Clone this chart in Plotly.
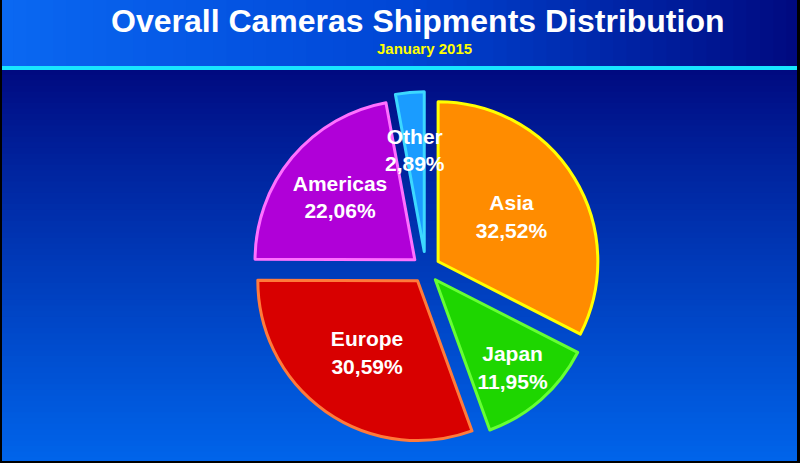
import plotly.graph_objects as go

# ---- data ----
regions = ["Asia", "Japan", "Europe", "Americas", "Other"]
shares = [32.52, 11.95, 30.59, 22.06, 2.89]
slice_colors = ["#ff8c00", "#1ed600", "#d80000", "#b000d8", "#1a9cff"]
edge_colors = ["#ffff00", "#66ff33", "#ff7a3a", "#ff70ff", "#3cd8ff"]
pulls = [0.09, 0.09, 0.09, 0.09, 0.11]

title_text = "Overall Cameras Shipments Distribution"
subtitle_text = "January 2015"

W, H = 800, 463
LABEL_FONT = dict(color="white", size=21, family="Liberation Sans, Arial", weight="bold")


def lerp(c1, c2, t):
    a = [int(c1[i:i + 2], 16) for i in (1, 3, 5)]
    b = [int(c2[i:i + 2], 16) for i in (1, 3, 5)]
    return "#%02x%02x%02x" % tuple(round(a[k] + (b[k] - a[k]) * t) for k in range(3))


shapes = []
# header: horizontal gradient
header_h = 66
n = 60
for i in range(n):
    t = i / (n - 1)
    if t < 0.5:
        col = lerp("#0a68f2", "#0046d6", t / 0.5)
    else:
        col = lerp("#0046d6", "#000a80", (t - 0.5) / 0.5)
    shapes.append(dict(type="rect", xref="paper", yref="paper", layer="below",
                       x0=i / n, x1=(i + 1) / n + 0.002,
                       y0=1 - header_h / H, y1=1,
                       fillcolor=col, line=dict(width=0)))
# body: vertical gradient
top_px = 69
m = 70
for i in range(m):
    t = i / (m - 1)
    y_top = top_px + (H - top_px) * i / m
    y_bot = top_px + (H - top_px) * (i + 1) / m + 1
    col = lerp("#000a80", "#0064ea", t ** 0.9)
    shapes.append(dict(type="rect", xref="paper", yref="paper", layer="below",
                       x0=0, x1=1, y0=1 - y_bot / H, y1=1 - y_top / H,
                       fillcolor=col, line=dict(width=0)))
# cyan separator line
shapes.append(dict(type="rect", xref="paper", yref="paper", layer="below",
                   x0=0, x1=1, y0=1 - 70 / H, y1=1 - 66 / H,
                   fillcolor="#18e6ff", line=dict(width=0)))
# black frame (left, right, bottom)
for x0, x1, y0, y1 in [(0, 2 / W, 0, 1), (1 - 3 / W, 1, 0, 1), (0, 1, 0, 2 / H)]:
    shapes.append(dict(type="rect", xref="paper", yref="paper", layer="above",
                       x0=x0, x1=x1, y0=y0, y1=y1,
                       fillcolor="#000000", line=dict(width=0)))

# per-slice text; the thin "Other" slice gets its label as an annotation
templates = ["%{label}<br>%{value:.2f}%"] * len(regions)
templates[-1] = ""

fig = go.Figure(go.Pie(
    labels=regions,
    values=shares,
    sort=False,
    direction="clockwise",
    rotation=0,
    pull=pulls,
    marker=dict(colors=slice_colors, line=dict(color=edge_colors, width=3)),
    texttemplate=templates,
    textposition="inside",
    insidetextorientation="horizontal",
    textfont=LABEL_FONT,
    domain=dict(x=[0.3106, 0.754], y=[0.036, 0.802]),
    showlegend=False,
    hoverinfo="label+percent",
))

other_text = "%s<br>%s%%" % (regions[-1], ("%.2f" % shares[-1]).replace(".", ","))

fig.update_layout(
    width=W, height=H,
    margin=dict(l=0, r=0, t=0, b=0),
    paper_bgcolor="#000a80",
    separators=",.",
    uniformtext=dict(minsize=21, mode="show"),
    shapes=shapes,
    annotations=[
        dict(text=title_text, x=0.522, y=1 - 21 / H, xref="paper", yref="paper",
             showarrow=False, xanchor="center", yanchor="middle", borderpad=0,
             font=dict(family="Liberation Sans, Arial", size=32, color="white", weight="bold")),
        dict(text=subtitle_text, x=0.531, y=1 - 49 / H, xref="paper", yref="paper",
             showarrow=False, xanchor="center", yanchor="middle", borderpad=0,
             font=dict(family="Liberation Sans, Arial", size=15, color="#ffff00", weight="bold")),
        dict(text=other_text, x=415 / W, y=1 - 150 / H, xref="paper", yref="paper",
             showarrow=False, xanchor="center", yanchor="middle",
             font=LABEL_FONT),
    ],
)

fig.write_html("out.html", config={"displayModeBar": False},
               post_script="document.body.style.margin='0';document.body.style.overflow='hidden';")
